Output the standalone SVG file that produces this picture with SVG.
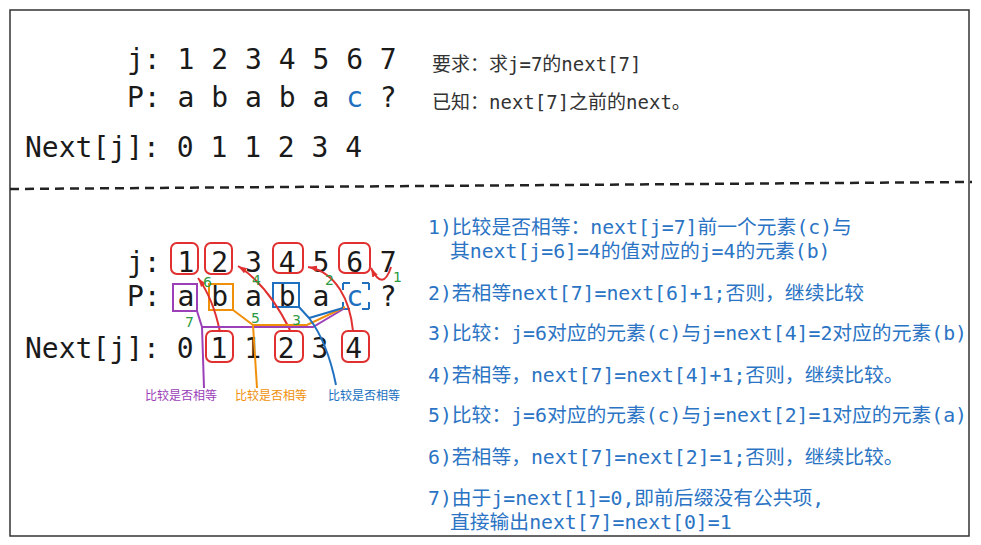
<svg xmlns="http://www.w3.org/2000/svg" width="981" height="545" viewBox="0 0 981 545">
<style>
.mono{font-family:'DejaVu Sans Mono','Liberation Mono',monospace;font-size:28px;fill:#1a1a1a}
.info{font-family:'DejaVu Sans Mono','Noto Sans CJK SC',monospace;font-size:19px;fill:#333}
.step{font-family:'DejaVu Sans Mono','Noto Sans CJK SC',monospace;font-size:19.8px;fill:#2b74c4}
.lbl{font-family:'Noto Sans CJK SC',sans-serif;font-size:12px}
.num{font-family:'DejaVu Sans','Liberation Sans',sans-serif;font-size:14px;fill:#2a9a40}
.rbox{fill:none;stroke:#e03030;stroke-width:2}
.red{fill:none;stroke:#e03030;stroke-width:2}
</style>
<defs>
<marker id="ah" markerWidth="10" markerHeight="8" refX="9" refY="4" orient="auto" markerUnits="userSpaceOnUse">
<path d="M0,1 L9,4 L0,7 Z" fill="#e03030"/>
</marker>
</defs>
<rect x="10" y="10" width="959" height="526" fill="#fff" stroke="#333" stroke-width="1.5"/>
<line x1="10" y1="189" x2="972" y2="182" stroke="#222" stroke-width="2.5" stroke-dasharray="9 6"/>

<g id="top-table">
<text class="mono" x="127" y="69">j: 1 2 3 4 5 6 7</text>
<text class="mono" x="127" y="107">P: a b a b a <tspan fill="#2070c0">c</tspan> ?</text>
<text class="mono" x="25" y="157">Next[j]: 0 1 1 2 3 4</text>
</g>
<g id="top-info">
<text class="info" x="432" y="71">要求：求j=7的next[7]</text>
<text class="info" x="432" y="109">已知：next[7]之前的next。</text>
</g>

<g id="bottom-table">
<text class="mono" x="127" y="272">j: 1 2 3 4 5 6 7</text>
<text class="mono" x="127" y="306">P: a b a b a <tspan fill="#2070c0">c</tspan> ?</text>
<text class="mono" x="25" y="358">Next[j]: 0 1 1 2 3 4</text>
</g>
<g id="boxes">
<rect class="rbox" x="171" y="243" width="27" height="31" rx="6"/>
<rect class="rbox" x="205" y="243" width="27" height="31" rx="6"/>
<rect class="rbox" x="273" y="243" width="30" height="30" rx="6"/>
<rect class="rbox" x="339" y="243" width="31" height="30" rx="6"/>
<rect class="rbox" x="206" y="331" width="27" height="31" rx="6"/>
<rect class="rbox" x="275" y="331" width="28" height="31" rx="6"/>
<rect class="rbox" x="342" y="331" width="27" height="31" rx="6"/>
<rect x="173" y="284" width="24" height="27" fill="none" stroke="#9b40b8" stroke-width="2"/>
<rect x="209" y="284" width="24" height="26" fill="none" stroke="#f0900a" stroke-width="2"/>
<rect x="273" y="283" width="26" height="24" fill="none" stroke="#2070c0" stroke-width="2"/>
<rect x="343" y="283" width="26" height="26" fill="none" stroke="#2070c0" stroke-width="2" stroke-dasharray="7 12 7 0"/>
</g>
<g id="connectors">
<path class="red" d="M220,332 Q213,298 198,278" marker-end="url(#ah)"/>
<path class="red" d="M290,330 Q268,285 238,266" marker-end="url(#ah)"/>
<path class="red" d="M353,331 C350,300 336,272 308,267" marker-end="url(#ah)"/>
<path class="red" d="M391,267 Q383,292 371,268" marker-end="url(#ah)"/>
<path d="M197,311 L202,327 L313,327 L345,308 M202,327 L204,388" fill="none" stroke="#9b40b8" stroke-width="2"/>
<path d="M233,310 L253,325 L307,325 L345,307 M253,325 L257,388" fill="none" stroke="#f0900a" stroke-width="2"/>
<path d="M299,307 L309,318 L343,308 M309,318 C322,335 330,355 336,385" fill="none" stroke="#2070c0" stroke-width="2"/>
</g>
<g id="order-numbers">
<text class="num" x="393" y="282">1</text>
<text class="num" x="325" y="285">2</text>
<text class="num" x="252" y="285">4</text>
<text class="num" x="203" y="287">6</text>
<text class="num" x="185" y="327">7</text>
<text class="num" x="251" y="323">5</text>
<text class="num" x="292" y="325">3</text>
</g>
<g id="compare-labels">
<text class="lbl" x="145" y="400" fill="#9b40b8">比较是否相等</text>
<text class="lbl" x="235" y="400" fill="#f0900a">比较是否相等</text>
<text class="lbl" x="328" y="400" fill="#2070c0">比较是否相等</text>
</g>
<g id="steps">
<text class="step" x="428" y="234">1)比较是否相等：next[j=7]前一个元素(c)与</text>
<text class="step" x="450" y="258">其next[j=6]=4的值对应的j=4的元素(b)</text>
<text class="step" x="428" y="300">2)若相等next[7]=next[6]+1;否则，继续比较</text>
<text class="step" x="428" y="340">3)比较：j=6对应的元素(c)与j=next[4]=2对应的元素(b)</text>
<text class="step" x="428" y="382">4)若相等，next[7]=next[4]+1;否则，继续比较。</text>
<text class="step" x="428" y="422">5)比较：j=6对应的元素(c)与j=next[2]=1对应的元素(a)</text>
<text class="step" x="428" y="464">6)若相等，next[7]=next[2]=1;否则，继续比较。</text>
<text class="step" x="428" y="505">7)由于j=next[1]=0,即前后缀没有公共项,</text>
<text class="step" x="450" y="529">直接输出next[7]=next[0]=1</text>
</g>
</svg>
